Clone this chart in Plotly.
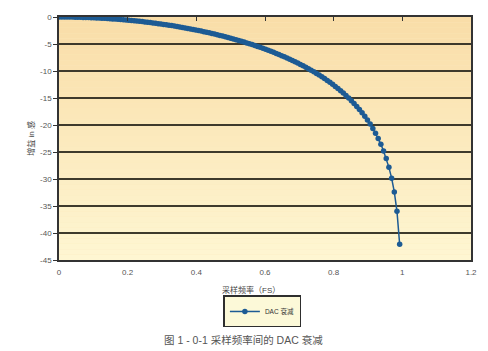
import plotly.graph_objects as go

# Sample frequency (fraction of FS) and DAC attenuation (dB)
freq = [0, 0.0078, 0.0156, 0.0234, 0.0313, 0.0391, 0.0469, 0.0547, 0.0625, 0.0703,
        0.0781, 0.0859, 0.0938, 0.1016, 0.1094, 0.1172, 0.125, 0.1328, 0.1406, 0.1484,
        0.1563, 0.1641, 0.1719, 0.1797, 0.1875, 0.1953, 0.2031, 0.2109, 0.2188, 0.2266,
        0.2344, 0.2422, 0.25, 0.2578, 0.2656, 0.2734, 0.2813, 0.2891, 0.2969, 0.3047,
        0.3125, 0.3203, 0.3281, 0.3359, 0.3438, 0.3516, 0.3594, 0.3672, 0.375, 0.3828,
        0.3906, 0.3984, 0.4063, 0.4141, 0.4219, 0.4297, 0.4375, 0.4453, 0.4531, 0.4609,
        0.4688, 0.4766, 0.4844, 0.4922, 0.5, 0.5078, 0.5156, 0.5234, 0.5313, 0.5391,
        0.5469, 0.5547, 0.5625, 0.5703, 0.5781, 0.5859, 0.5938, 0.6016, 0.6094, 0.6172,
        0.625, 0.6328, 0.6406, 0.6484, 0.6563, 0.6641, 0.6719, 0.6797, 0.6875, 0.6953,
        0.7031, 0.7109, 0.7188, 0.7266, 0.7344, 0.7422, 0.75, 0.7578, 0.7656, 0.7734,
        0.7813, 0.7891, 0.7969, 0.8047, 0.8125, 0.8203, 0.8281, 0.8359, 0.8438, 0.8516,
        0.8594, 0.8672, 0.875, 0.8828, 0.8906, 0.8984, 0.9063, 0.9141, 0.9219, 0.9297,
        0.9375, 0.9453, 0.9531, 0.9609, 0.9688, 0.9766, 0.9844, 0.9922]

atten_db = [0.0, -0.001, -0.004, -0.008, -0.014, -0.022, -0.031, -0.043, -0.056, -0.071,
            -0.087, -0.106, -0.126, -0.148, -0.172, -0.197, -0.224, -0.254, -0.284, -0.317,
            -0.352, -0.388, -0.426, -0.466, -0.508, -0.552, -0.598, -0.645, -0.695, -0.746,
            -0.800, -0.855, -0.912, -0.971, -1.033, -1.096, -1.161, -1.229, -1.298, -1.369,
            -1.443, -1.519, -1.597, -1.677, -1.759, -1.844, -1.931, -2.020, -2.111, -2.205,
            -2.301, -2.400, -2.501, -2.605, -2.711, -2.820, -2.931, -3.045, -3.162, -3.281,
            -3.404, -3.529, -3.657, -3.788, -3.922, -4.060, -4.200, -4.344, -4.491, -4.641,
            -4.795, -4.953, -5.114, -5.279, -5.448, -5.621, -5.797, -5.978, -6.164, -6.354,
            -6.548, -6.748, -6.952, -7.161, -7.376, -7.596, -7.822, -8.054, -8.292, -8.536,
            -8.787, -9.045, -9.311, -9.584, -9.866, -10.156, -10.455, -10.763, -11.082, -11.411,
            -11.752, -12.104, -12.470, -12.850, -13.245, -13.656, -14.084, -14.531, -15.000, -15.491,
            -16.007, -16.551, -17.126, -17.737, -18.387, -19.083, -19.832, -20.642, -21.525, -22.497,
            -23.578, -24.797, -26.196, -27.841, -29.841, -32.404, -35.990, -42.077]

x_ticks = [0, 0.2, 0.4, 0.6, 0.8, 1.0, 1.2]
x_tick_text = ["0", "0.2", "0.4", "0.6", "0.8", "1", "1.2"]
y_ticks = [0, -5, -10, -15, -20, -25, -30, -35, -40, -45]
y_tick_text = ["0", "-5", "-10", "-15", "-20", "-25", "-30", "-35", "-40", "-45"]

series_name = "DAC 衰减"
x_title = "采样频率（FS）"
y_title = "增益 in 感"
caption = "图 1 - 0-1 采样频率间的 DAC 衰减"

FONT = "Liberation Sans, Noto Sans CJK SC, sans-serif"
LINE_COLOR = "#1d5b94"
GRID = "#3e3a2c"

fig = go.Figure()
fig.add_trace(go.Scatter(
    x=freq, y=atten_db, mode="lines+markers", name=series_name,
    line=dict(color=LINE_COLOR, width=1.5),
    marker=dict(color=LINE_COLOR, size=5.5, symbol="circle"),
))
# invisible trace to carry top tick axis
fig.add_trace(go.Scatter(x=[0, 1.2], y=[0, 0], xaxis="x2", mode="none",
                         showlegend=False, hoverinfo="skip"))

# gradient plot background (style only)
shapes = []
n = 45
top = (249, 221, 168)
bot = (254, 246, 210)
for i in range(n):
    t = i / (n - 1)
    c = tuple(round(top[j] + (bot[j] - top[j]) * t) for j in range(3))
    shapes.append(dict(type="rect", xref="paper", yref="paper",
                       x0=0, x1=1, y0=1 - (i + 1) / n, y1=1 - i / n,
                       fillcolor="rgb(%d,%d,%d)" % c, line=dict(width=0),
                       layer="below"))

fig.update_layout(
    width=488, height=351,
    margin=dict(l=59, r=17, t=17, b=91),
    paper_bgcolor="white",
    plot_bgcolor="#fbe9bd",
    font=dict(family=FONT, size=8, color="#555555"),
    shapes=shapes,
    showlegend=True,
    legend=dict(x=0.399, y=-0.146, xanchor="left", yanchor="top",
                bgcolor="#fcf9d8", bordercolor="#2e2e2e", borderwidth=1.5,
                font=dict(size=6.5, color="#333333", family=FONT),
                itemwidth=30, tracegroupgap=0),
    xaxis=dict(range=[0, 1.2], tickvals=x_ticks, ticktext=x_tick_text,
               showgrid=False, zeroline=False, showline=True, mirror=True,
               linecolor="#333333", linewidth=1.5, ticks="",
               ticklabelstandoff=4,
               tickfont=dict(size=8, color="#555555")),
    xaxis2=dict(range=[0, 1.2], overlaying="x", side="top", tickvals=x_ticks,
                showticklabels=False, ticks="inside", ticklen=4, tickwidth=1,
                tickcolor="#333333", showgrid=False, zeroline=False, showline=False),
    yaxis=dict(range=[-45, 0], tickvals=y_ticks, ticktext=y_tick_text,
               showgrid=True, gridcolor=GRID, gridwidth=1.5, zeroline=False,
               showline=True, mirror=True, linecolor="#333333", linewidth=1.5,
               ticks="outside", ticklen=4, tickcolor="#333333",
               tickfont=dict(size=8, color="#555555")),
    annotations=[
        dict(text=x_title, xref="paper", yref="paper", x=0.466, y=-0.095,
             xanchor="center", yanchor="top", showarrow=False,
             font=dict(size=8, color="#444444")),
        dict(text=y_title, xref="paper", yref="paper", x=-0.07, y=0.5,
             textangle=-90, xanchor="center", yanchor="middle", showarrow=False,
             font=dict(size=8, color="#444444")),
        dict(text=caption, xref="paper", yref="paper", x=0.447, y=-0.295,
             xanchor="center", yanchor="top", showarrow=False,
             font=dict(size=10.5, color="#555555")),
    ],
)

fig.write_html("out.html")
